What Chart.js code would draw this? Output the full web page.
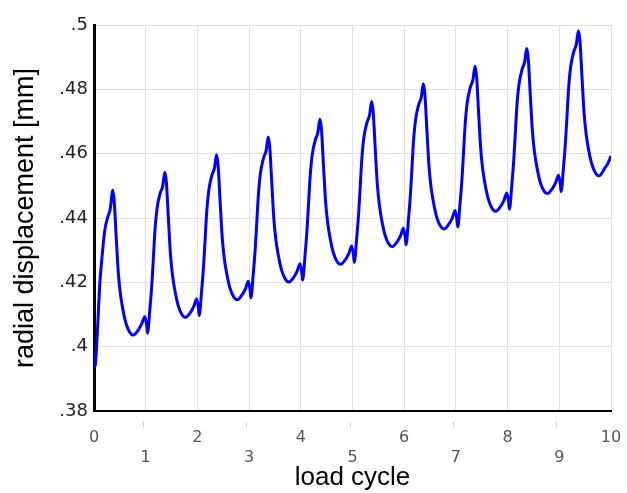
<!DOCTYPE html>
<html>
<head>
<meta charset="utf-8">
<script src="https://cdn.jsdelivr.net/npm/chart.js@4.4.1/dist/chart.umd.min.js"></script>
<style>
  html, body { margin: 0; padding: 0; background: #fff; }
  #wrap { width: 627px; height: 493px; position: relative; }
</style>
</head>
<body>
<div id="wrap"><canvas id="chart"></canvas></div>
<script>
// tick labels as printed on the axes
const xTickLabels = ['0', '1', '2', '3', '4', '5', '6', '7', '8', '9', '10'];
const yTickLabels = ['.38', '.4', '.42', '.44', '.46', '.48', '.5'];

// load cycle (x), one line per cycle
const loadCycle = [
  0, 0.02, 0.05, 0.08, 0.11, 0.15, 0.21, 0.27, 0.31, 0.33, 0.36, 0.39, 0.43, 0.47, 0.51, 0.56, 0.62, 0.69, 0.76, 0.85, 0.92, 0.985,
  1.02, 1.035, 1.08, 1.12, 1.15, 1.18, 1.22, 1.28, 1.33, 1.37, 1.40, 1.44, 1.48, 1.52, 1.57, 1.63, 1.70, 1.77, 1.86, 1.93, 1.985,
  2.02, 2.035, 2.08, 2.12, 2.15, 2.18, 2.22, 2.28, 2.33, 2.37, 2.40, 2.44, 2.48, 2.52, 2.57, 2.63, 2.70, 2.77, 2.86, 2.93, 2.985,
  3.02, 3.035, 3.08, 3.12, 3.15, 3.18, 3.22, 3.28, 3.33, 3.37, 3.40, 3.44, 3.48, 3.52, 3.57, 3.63, 3.70, 3.77, 3.86, 3.93, 3.985,
  4.02, 4.035, 4.08, 4.12, 4.15, 4.18, 4.22, 4.28, 4.33, 4.37, 4.40, 4.44, 4.48, 4.52, 4.57, 4.63, 4.70, 4.77, 4.86, 4.93, 4.985,
  5.02, 5.035, 5.08, 5.12, 5.15, 5.18, 5.22, 5.28, 5.33, 5.37, 5.40, 5.44, 5.48, 5.52, 5.57, 5.63, 5.70, 5.77, 5.86, 5.93, 5.985,
  6.02, 6.035, 6.08, 6.12, 6.15, 6.18, 6.22, 6.28, 6.33, 6.37, 6.40, 6.44, 6.48, 6.52, 6.57, 6.63, 6.70, 6.77, 6.86, 6.93, 6.985,
  7.02, 7.035, 7.08, 7.12, 7.15, 7.18, 7.22, 7.28, 7.33, 7.37, 7.40, 7.44, 7.48, 7.52, 7.57, 7.63, 7.70, 7.77, 7.86, 7.93, 7.985,
  8.02, 8.035, 8.08, 8.12, 8.15, 8.18, 8.22, 8.28, 8.33, 8.37, 8.40, 8.44, 8.48, 8.52, 8.57, 8.63, 8.70, 8.77, 8.86, 8.93, 8.985,
  9.02, 9.035, 9.08, 9.12, 9.15, 9.18, 9.22, 9.28, 9.33, 9.37, 9.40, 9.44, 9.48, 9.52, 9.57, 9.63, 9.70, 9.77, 9.88, 9.94, 10.0
];

// radial displacement [mm] at those points
const displacement = [
  .3980, .3938, .4000, .4093, .4190, .4270, .4363, .4405, .4425, .4448, .4487, .4455, .4340, .4230, .4165, .4115, .4072, .4045, .4036, .4050, .4070, .4093,
  .4065, .4042, .4115, .4197, .4280, .4363, .4430, .4477, .4500, .4542, .4510, .4395, .4285, .4220, .4170, .4127, .4100, .4091, .4105, .4125, .4148,
  .4120, .4097, .4170, .4252, .4335, .4418, .4485, .4532, .4555, .4597, .4565, .4450, .4340, .4275, .4225, .4182, .4155, .4146, .4160, .4180, .4203,
  .4175, .4152, .4225, .4307, .4390, .4473, .4540, .4587, .4610, .4652, .4620, .4505, .4395, .4330, .4280, .4237, .4210, .4201, .4215, .4235, .4258,
  .4230, .4207, .4280, .4362, .4445, .4528, .4595, .4642, .4665, .4707, .4675, .4560, .4450, .4385, .4335, .4292, .4265, .4256, .4270, .4290, .4313,
  .4285, .4262, .4335, .4417, .4500, .4583, .4650, .4697, .4720, .4762, .4730, .4615, .4505, .4440, .4390, .4347, .4320, .4311, .4325, .4345, .4368,
  .4340, .4317, .4390, .4472, .4555, .4638, .4705, .4752, .4775, .4817, .4785, .4670, .4560, .4495, .4445, .4402, .4375, .4366, .4380, .4400, .4423,
  .4395, .4372, .4445, .4527, .4610, .4693, .4760, .4807, .4830, .4872, .4840, .4725, .4615, .4550, .4500, .4457, .4430, .4421, .4435, .4455, .4478,
  .4450, .4427, .4500, .4582, .4665, .4748, .4815, .4862, .4885, .4927, .4895, .4780, .4670, .4605, .4555, .4512, .4485, .4476, .4490, .4510, .4533,
  .4505, .4482, .4555, .4637, .4720, .4803, .4870, .4917, .4940, .4982, .4950, .4835, .4725, .4660, .4610, .4567, .4540, .4531, .4555, .4570, .4593
];

const points = loadCycle.map((x, i) => ({ x: x, y: displacement[i] }));

const tickFont = '"DejaVu Sans", Verdana, sans-serif';
const titleFont = '"Liberation Sans", Arial, sans-serif';

// little gray marks under the odd (second row) labels
const oddTickMarks = {
  id: 'oddTickMarks',
  afterDraw(chart) {
    const sx = chart.scales.x;
    const ctx = chart.ctx;
    ctx.save();
    ctx.strokeStyle = '#d0d0d0';
    ctx.lineWidth = 1;
    xTickLabels.forEach((lbl, i) => {
      if (i % 2 === 0) return;
      const px = Math.round(sx.getPixelForValue(i)) - 3 + 0.5;
      ctx.beginPath();
      ctx.moveTo(px, sx.top + 11);
      ctx.lineTo(px, sx.top + 16);
      ctx.stroke();
    });
    ctx.restore();
  }
};

new Chart(document.getElementById('chart'), {
  type: 'line',
  data: {
    datasets: [{
      data: points,
      borderColor: '#0000ff',
      borderWidth: 3,
      pointRadius: 0,
      cubicInterpolationMode: 'monotone',
      fill: false
    }]
  },
  options: {
    responsive: true,
    maintainAspectRatio: false,
    animation: false,
    layout: { padding: { top: 25, right: 16, left: 0, bottom: 0 } },
    plugins: { legend: { display: false }, tooltip: { enabled: false } },
    scales: {
      x: {
        type: 'linear',
        min: 0, max: 10,
        afterFit: (s) => { s.height = 82; s.paddingLeft = 0; s.paddingRight = 0; },
        border: { color: '#000', width: 2 },
        grid: { color: '#e2e2e2', lineWidth: 1, drawTicks: false },
        ticks: {
          stepSize: 1,
          autoSkip: false,
          maxRotation: 0,
          padding: 17,
          color: '#555',
          font: { family: tickFont, size: 16, lineHeight: '20px' },
          callback: (v) => {
            const i = Math.round(v);
            const lbl = xTickLabels[i];
            return i % 2 === 0 ? [lbl, ''] : ['', lbl];
          }
        },
        title: {
          display: true,
          text: 'load cycle',
          color: '#000',
          padding: { top: 0, bottom: 0 },
          font: { family: titleFont, size: 26 }
        }
      },
      y: {
        min: 0.38, max: 0.5,
        afterFit: (s) => { s.width = 94; s.paddingTop = 0; s.paddingBottom = 0; },
        border: { color: '#000', width: 3 },
        grid: { color: '#e2e2e2', lineWidth: 1, drawTicks: false },
        ticks: {
          stepSize: 0.02,
          padding: 6,
          color: '#222',
          font: { family: tickFont, size: 18 },
          callback: (v, i) => yTickLabels[i]
        },
        title: {
          display: true,
          text: 'radial displacement [mm]',
          color: '#000',
          padding: { top: 9, bottom: 0 },
          font: { family: titleFont, size: 27 }
        }
      }
    }
  },
  plugins: [oddTickMarks]
});
</script>
</body>
</html>
